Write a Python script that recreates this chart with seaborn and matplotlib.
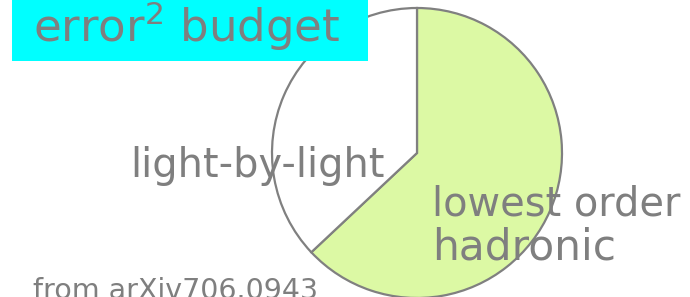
import matplotlib
matplotlib.use("Agg")
import matplotlib.pyplot as plt
from matplotlib.patches import Rectangle
import seaborn as sns

sns.set_theme(style="white")
plt.rcParams['font.family'] = ['DejaVu Sans']
plt.rcParams['mathtext.default'] = 'regular'

labels = ["lowest order\nhadronic", "light-by-light"]
values = [63, 37]
colors = ["#DCF9A4", "#FFFFFF"]
title = "error$^2$ budget"
source = "from arXiv706.0943"

W, H = 690, 297
fig = plt.figure(figsize=(6.9, 2.97), dpi=100)
ax = fig.add_axes([0, 0, 1, 1])
ax.set_xlim(0, W)
ax.set_ylim(0, H)
ax.set_aspect("equal")
ax.axis("off")

ax.pie(values, colors=colors, startangle=90, counterclock=False,
       center=(417, H - 153), radius=145, frame=True,
       wedgeprops=dict(edgecolor="#808080", linewidth=1.6))
ax.set_xlim(0, W)
ax.set_ylim(0, H)
ax.axis("off")

ax.add_patch(Rectangle((12, H - 61), 356, 61, facecolor="#00FFFF",
                       edgecolor="none", zorder=5))

grey = "#7f7f7f"
renderer = fig.canvas.get_renderer()

def fit_text(x, y, s, width_px, **kw):
    t = ax.text(x, y, s, color=grey, zorder=10, va="baseline", ha="left",
                fontsize=30, **kw)
    w = t.get_window_extent(renderer).width
    t.set_fontsize(30 * width_px / w)
    return t

fit_text(33, H - 42, title, 307)
fit_text(130, H - 177, labels[1], 253)
fit_text(432, H - 215, labels[0].split("\n")[0], 248)
t = fit_text(432, H - 260, labels[0].split("\n")[1], 183)
fit_text(33, H - 299, source, 285)

fig.savefig("out.png", dpi=100)
